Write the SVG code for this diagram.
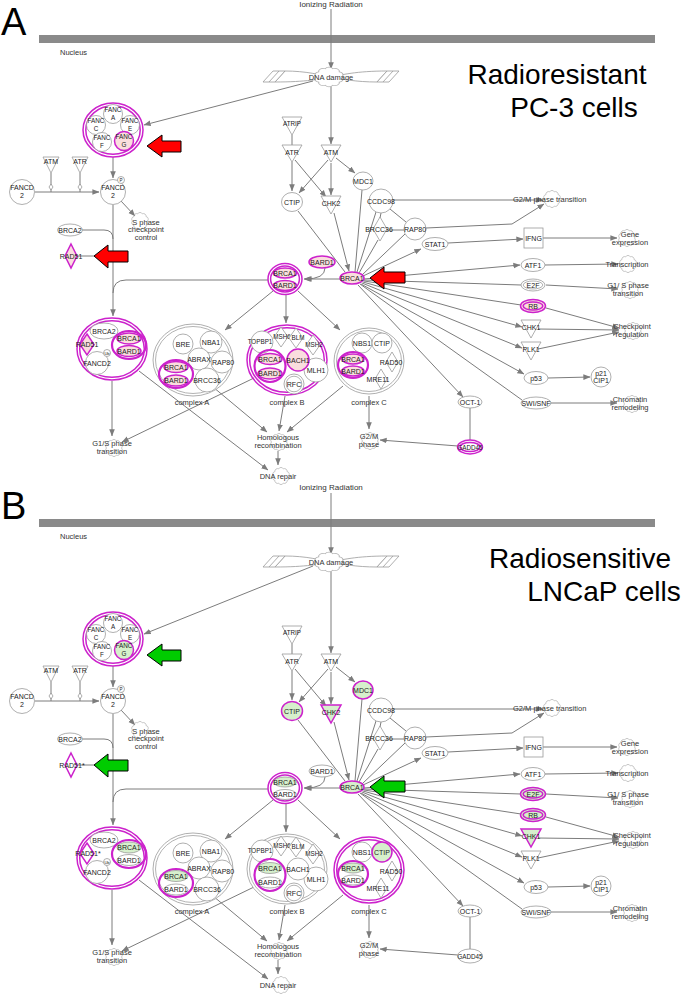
<svg xmlns="http://www.w3.org/2000/svg" width="685" height="995" viewBox="0 0 685 995">
<style>
text{font-family:"Liberation Sans",Arial,sans-serif;fill:#222}
.t{font-size:7px;text-anchor:middle}
.ts{font-size:6.3px;text-anchor:middle}
.f{font-size:7.5px;text-anchor:middle;fill:#333}
.fs{font-size:7.5px;text-anchor:start;fill:#333}
.big{font-size:28px;fill:#000;text-anchor:middle}
.lt{font-size:38px;fill:#000}
.nuc{font-size:7.5px;fill:#333}
.c{stroke:#7c7c7c;stroke-width:1;fill:none}
.a{stroke:#7c7c7c;stroke-width:1;fill:none;marker-end:url(#ah)}
.dm{fill:#fff;stroke:#8a8a8a;stroke-width:0.7}
.n{fill:#fff;stroke:#9a9a9a;stroke-width:0.8}
.m{stroke:#cc22cc;stroke-width:1.5}
.mo{fill:none;stroke:#cc22cc;stroke-width:1.5}
.go{fill:none;stroke:#a0a0a0;stroke-width:0.8}
.pk{fill:#fadede}
.gn{fill:#d6f0cc}
.sub{fill:none;stroke:#cc22cc;stroke-width:2.2}
.gear{fill:none;stroke:#b8b8b8;stroke-width:0.8}
.red{fill:#ff0000;stroke:#000;stroke-width:1}
.grn{fill:#00cc00;stroke:#000;stroke-width:1}
.bar{fill:#8a8a8a}
</style>
<defs>
<marker id="ah" viewBox="0 0 10 10" refX="9.5" refY="5" markerWidth="7" markerHeight="7" markerUnits="userSpaceOnUse" orient="auto"><path d="M0,1 L10,5 L0,9 Z" fill="#7c7c7c"/></marker>
<path id="gear" class="gear" d="M7.5,0 A2.6,2.6 0 0 1 6.07,4.41 A2.6,2.6 0 0 1 2.32,7.13 A2.6,2.6 0 0 1 -2.32,7.13 A2.6,2.6 0 0 1 -6.07,4.41 A2.6,2.6 0 0 1 -7.5,0 A2.6,2.6 0 0 1 -6.07,-4.41 A2.6,2.6 0 0 1 -2.32,-7.13 A2.6,2.6 0 0 1 2.32,-7.13 A2.6,2.6 0 0 1 6.07,-4.41 A2.6,2.6 0 0 1 7.5,0 Z"/>
<g id="dnashape">
<path class="n" d="M-56,5 L-46,-6 C-25,-6 -10,-2 0,0 C-10,2 -25,5 -56,5 Z"/>
<path class="n" d="M56,-6 L46,5 C25,5 10,2 0,0 C10,-2 25,-6 56,-6 Z"/>
<path class="n" d="M-68,5 L-58,-6 L-46,-6 L-56,5 Z"/>
<path class="c" d="M-62,5 L-52,-6" style="stroke:#9a9a9a;stroke-width:0.8"/>
<path class="n" d="M68,-6 L58,5 L46,5 L56,-6 Z"/>
<path class="c" d="M62,-6 L52,5" style="stroke:#9a9a9a;stroke-width:0.8"/>
<path d="M7.5,0 A2.6,2.6 0 0 1 6.07,4.41 A2.6,2.6 0 0 1 2.32,7.13 A2.6,2.6 0 0 1 -2.32,7.13 A2.6,2.6 0 0 1 -6.07,4.41 A2.6,2.6 0 0 1 -7.5,0 A2.6,2.6 0 0 1 -6.07,-4.41 A2.6,2.6 0 0 1 -2.32,-7.13 A2.6,2.6 0 0 1 2.32,-7.13 A2.6,2.6 0 0 1 6.07,-4.41 A2.6,2.6 0 0 1 7.5,0 Z" transform="translate(-2,0) scale(1.7,1.15)" fill="#fff" stroke="#b0b0b0" stroke-width="0.6"/>
</g>
</defs>
<rect width="685" height="995" fill="#fff"/>

<!-- ===================== PANEL A ===================== -->
<g id="panelA-top">
<text class="lt" x="1" y="35">A</text>
<rect class="bar" x="39" y="35" width="616" height="8"/>
<text class="nuc" x="60" y="55">Nucleus</text>
<text class="f" x="331" y="7" style="font-size:8px">Ionizing Radiation</text>
<text class="big" x="557" y="84">Radioresistant</text>
<text class="big" x="574" y="117">PC-3 cells</text>
<g id="a-top-edges">
<path class="a" d="M331,9 L331,69"/>
<path class="a" d="M331,86 L331,144"/>
<path class="a" d="M313,81 L144,125"/>
</g>
<g id="a-dnadamage"><use href="#dnashape" x="331" y="77"/><text class="f" x="331" y="79.5">DNA damage</text></g>
</g>

<g id="panelA">
<g id="a-edges">
<path class="a" d="M113,157 L113,178"/>
<path class="c" d="M51,173 L51,192"/>
<path class="c" d="M80,173 L80,192"/>
<path class="dm" d="M51,184 L53,187 L51,190 L49,187 Z"/>
<path class="dm" d="M80,184 L82,187 L80,190 L78,187 Z"/>
<path class="a" d="M35,192 L99,192"/>
<path class="a" d="M121,201 L135,216"/>
<path class="a" d="M113,205 L113,316"/>
<path class="c" d="M82,230 L104,230 Q113,230 113,239"/>
<path class="c" d="M77,256 L113,256"/>
<path class="c" d="M268,280 L126,280 Q113,280 113,293"/>
<path class="a" d="M112,381 L112,436"/>
<path class="a" d="M139,371 L268,470"/>
<path class="a" d="M254,378 L122,442"/>
<path class="a" d="M213,387 L267,432"/>
<path class="a" d="M285,396 L279,431"/>
<path class="a" d="M343,386 L287,432"/>
<path class="a" d="M278,451 L278,465"/>
<path class="a" d="M369,396 L369,429"/>
<path class="a" d="M458,446 L380,440"/>
<path class="c" d="M470,408 L470,440"/>
<path class="a" d="M273,291 L225,330"/>
<path class="a" d="M286,295 L286,323"/>
<path class="a" d="M298,291 L340,330"/>
<path class="a" d="M340,279 L304,279"/>
<path class="a" d="M325,268 Q325,279 305,279"/>
<path class="c" d="M292,135 L292,145"/>
<path class="a" d="M292,162 L292,191"/>
<path class="a" d="M295,160 L326,197"/>
<path class="a" d="M328,160 L299,193"/>
<path class="a" d="M331,163 L331,195"/>
<path class="a" d="M336,158 L355,173"/>
<path class="c" d="M298,211 L345,272"/>
<path class="a" d="M334,213 L349,271"/>
<path class="c" d="M362,190 L355,272"/>
<path class="c" d="M376,212 L357,272"/>
<path class="c" d="M378,240 L359,273"/>
<path class="c" d="M405,234 L362,275"/>
<path class="a" d="M363,276 L421,249"/>
<path class="c" d="M381,213 L380,218"/>
<path class="c" d="M386,230 L404,230"/>
<path class="c" d="M390,209 L406,222"/>
<path class="a" d="M393,200 L543,200"/>
<path class="a" d="M426,228 L512,224 L544,204"/>
<path class="a" d="M448,243 L523,239"/>
<path class="a" d="M543,238 L617,238"/>
<path class="a" d="M364,279 L520,265"/>
<path class="a" d="M545,265 L618,264"/>
<path class="c" d="M364,280 L521,285"/>
<path class="a" d="M546,285 L618,289"/>
<path class="c" d="M364,281 L521,305"/>
<path class="a" d="M546,308 L619,328"/>
<path class="a" d="M363,282 L522,327"/>
<path class="a" d="M538,329 L619,330"/>
<path class="a" d="M362,283 L522,348"/>
<path class="a" d="M538,349 L619,332"/>
<path class="a" d="M361,284 L524,374"/>
<path class="a" d="M548,378 L590,377"/>
<path class="c" d="M360,284 L522,400"/>
<path class="a" d="M551,403 L617,403"/>
<path class="a" d="M358,285 L463,397"/>
</g>

<g id="a-fanc">
<ellipse class="mo" cx="113" cy="130" rx="30" ry="27"/>
<ellipse class="mo" cx="113" cy="130" rx="27.2" ry="24.2"/>
<circle class="n" cx="113" cy="114" r="9.5"/><text class="ts" x="113" y="112">FANC</text><text class="ts" x="113" y="119.5">A</text>
<circle class="n" cx="96" cy="125" r="9.5"/><text class="ts" x="96" y="123">FANC</text><text class="ts" x="96" y="130.5">C</text>
<circle class="n" cx="130" cy="125" r="9.5"/><text class="ts" x="130" y="123">FANC</text><text class="ts" x="130" y="130.5">E</text>
<circle class="n" cx="102" cy="142" r="9.5"/><text class="ts" x="102" y="140">FANC</text><text class="ts" x="102" y="147.5">F</text>
<circle class="n m pk" cx="124" cy="141" r="9.5"/><text class="ts" x="124" y="139">FANC</text><text class="ts" x="124" y="146.5">G</text>
</g>
<g id="a-atm1"><path class="n" d="M43,157 L59,157 L51,173 Z"/><text class="t" x="51" y="164">ATM</text></g>
<g id="a-atr1"><path class="n" d="M72,157 L88,157 L80,173 Z"/><text class="t" x="80" y="164">ATR</text></g>
<g id="a-fancd2a"><circle class="n" cx="22" cy="192" r="12.5"/><text class="t" x="22" y="190">FANCD</text><text class="t" x="22" y="198">2</text></g>
<g id="a-fancd2b"><circle class="n" cx="113" cy="192" r="12.5"/><text class="t" x="113" y="190">FANCD</text><text class="t" x="113" y="198">2</text><circle class="n" cx="121" cy="180" r="3.5"/><text class="t" x="121" y="181.7" style="font-size:4.5px">P</text></g>
<g id="a-sphase"><use href="#gear" x="140" y="221"/><text class="f" x="146" y="224.5">S phase</text><text class="f" x="146" y="232">checkpoint</text><text class="f" x="146" y="240">control</text></g>
<g id="a-brca2"><ellipse class="n" cx="70" cy="230" rx="12.5" ry="6"/><text class="t" x="70" y="232.5">BRCA2</text></g>
<g id="a-rad51"><path class="n m pk" d="M71,244 L77,256 L71,268 L65,256 Z"/><text class="t" x="71" y="258.5">RAD51</text></g>
<g id="a-arrow1"><path class="red" d="M147,146 L162,135 L162,141 L181,141 L181,152 L162,152 L162,157 Z"/></g>
<g id="a-arrow2"><path class="red" d="M94,256 L108,245 L108,251 L128,251 L128,262 L108,262 L108,268 Z"/></g>
<g id="a-arrow3"><path class="red" d="M370,278 L384,267 L384,272 L405,272 L405,283 L384,283 L384,289 Z"/></g>
<g id="a-atrip"><path class="n" d="M282,117 L302,117 L292,135 Z"/><text class="ts" x="292" y="126">ATRIP</text></g>
<g id="a-atr2"><path class="n" d="M282,145 L302,145 L292,162 Z"/><text class="t" x="292" y="155">ATR</text></g>
<g id="a-atm2"><path class="n" d="M321,145 L341,145 L331,162 Z"/><text class="t" x="331" y="155">ATM</text></g>
<g id="a-ctip"><ellipse class="n" cx="292" cy="202" rx="10.5" ry="9.5"/><text class="t" x="292" y="204.5">CTIP</text></g>
<g id="a-chk2"><path class="n" d="M321,196 L341,196 L331,214 Z"/><text class="t" x="331" y="206">CHK2</text></g>
<g id="a-mdc1"><ellipse class="n" cx="363" cy="181" rx="10" ry="9"/><text class="t" x="363" y="183.5">MDC1</text></g>
<g id="a-ccdc98"><circle class="n" cx="381" cy="201" r="12"/><text class="t" x="381" y="203.5">CCDC98</text></g>
<g id="a-brcc36"><path class="n" d="M380,217 L387,229 L380,241 L373,229 Z"/><text class="t" x="379" y="231.5">BRCC36</text></g>
<g id="a-rap80"><circle class="n" cx="415" cy="229" r="11"/><text class="t" x="415" y="231.5">RAP80</text></g>
<g id="a-stat1"><ellipse class="n" cx="435" cy="244" rx="13" ry="6.5"/><text class="t" x="435" y="246.5">STAT1</text></g>
<g id="a-g2mtrans"><use href="#gear" x="552" y="199"/><text class="fs" x="513" y="202">G2/M phase transition</text></g>
<g id="a-ifng"><rect class="n" x="524" y="228" width="19" height="20"/><text class="t" x="533.5" y="240.5">IFNG</text></g>
<g id="a-geneexp"><use href="#gear" x="627" y="238"/><text class="f" x="630" y="236.5">Gene</text><text class="f" x="630" y="244.5">expression</text></g>
<g id="a-bard1"><ellipse class="n m pk" cx="322" cy="262" rx="13" ry="6"/><text class="t" x="322" y="264.5">BARD1</text></g>
<g id="a-brca1hub"><ellipse class="n m pk" cx="352" cy="278" rx="12" ry="6"/><text class="t" x="352" y="280.5">BRCA1</text></g>
<g id="a-brca1bard1">
<ellipse class="mo" cx="285" cy="279" rx="17" ry="15.5"/><ellipse class="mo" cx="285" cy="279" rx="14.4" ry="12.9"/>
<ellipse class="n m pk" cx="285" cy="273" rx="11.5" ry="5"/><text class="t" x="285" y="275.5">BRCA1</text>
<ellipse class="n m pk" cx="285" cy="285.5" rx="11.5" ry="5"/><text class="t" x="285" y="288">BARD1</text>
</g>
<g id="a-atf1"><ellipse class="n" cx="533" cy="265" rx="12" ry="6.5"/><text class="t" x="533" y="267.5">ATF1</text></g>
<g id="a-transcription"><use href="#gear" x="628" y="264"/><text class="f" x="627" y="266.5">Transcription</text></g>
<g id="a-e2f"><ellipse class="n" cx="533" cy="285" rx="12" ry="6"/><ellipse class="go" cx="533" cy="285" rx="9.8" ry="4"/><text class="t" x="533" y="287.5">E2F</text></g>
<g id="a-g1strans"><use href="#gear" x="630" y="290"/><text class="f" x="628" y="288">G1/ S phase</text><text class="f" x="628" y="296">transition</text></g>
<g id="a-rb"><ellipse class="n m pk" cx="533" cy="306" rx="12.5" ry="6.5"/><ellipse class="mo" cx="533" cy="306" rx="9.8" ry="4"/><text class="t" x="533" y="308.5">RB</text></g>
<g id="a-chk1"><path class="n" d="M521,320 L541,320 L531,338 Z"/><text class="t" x="531" y="330">CHK1</text></g>
<g id="a-plk1"><path class="n" d="M521,342 L541,342 L531,360 Z"/><text class="t" x="531" y="352">PLK1</text></g>
<g id="a-checkpoint"><use href="#gear" x="633" y="331"/><text class="f" x="632" y="329">Checkpoint</text><text class="f" x="632" y="337">regulation</text></g>
<g id="a-p53"><ellipse class="n" cx="536" cy="378" rx="12" ry="6.5"/><text class="t" x="536" y="380.5">p53</text></g>
<g id="a-p21"><circle class="n" cx="601" cy="377" r="10"/><text class="t" x="601" y="375.5">p21</text><text class="t" x="601" y="383">CIP1</text></g>
<g id="a-swisnf"><ellipse class="n" cx="536" cy="403" rx="15" ry="6"/><text class="t" x="536" y="405.5">SWI/SNF</text></g>
<g id="a-chromatin"><use href="#gear" x="632" y="404"/><text class="f" x="630" y="401.5">Chromatin</text><text class="f" x="630" y="409.5">remodeling</text></g>
<g id="a-oct1"><ellipse class="n" cx="470" cy="402" rx="12" ry="6"/><text class="t" x="470" y="404.5">OCT-1</text></g>
<g id="a-gadd45"><ellipse class="n m" cx="470" cy="447" rx="12.5" ry="7"/><ellipse class="mo" cx="470" cy="447" rx="10" ry="4.6"/><text class="ts" x="470" y="449.5">GADD45</text></g>
<g id="a-g2mphase"><use href="#gear" x="370" y="441"/><text class="f" x="369" y="439">G2/M</text><text class="f" x="369" y="447">phase</text></g>
<g id="a-hr"><use href="#gear" x="279" y="442"/><text class="f" x="278" y="440">Homologous</text><text class="f" x="278" y="448">recombination</text></g>
<g id="a-dnarepair"><use href="#gear" x="281" y="476"/><text class="f" x="278" y="479">DNA repair</text></g>
<g id="a-g1sphase"><use href="#gear" x="114" y="448"/><text class="f" x="112" y="446">G1/S phase</text><text class="f" x="112" y="454">transition</text></g>

<g id="a-brca2cx">
<ellipse class="mo" cx="112" cy="349" rx="35" ry="31" fill="#fff"/><ellipse class="mo" cx="112" cy="349" rx="32.3" ry="28.3"/>
<ellipse class="n" cx="104" cy="331" rx="14" ry="8"/><text class="t" x="104" y="333.5">BRCA2</text>
<circle class="n" cx="97" cy="363" r="11.5"/><text class="t" x="97" y="365.5">FANCD2</text>
<circle class="n" cx="107" cy="353" r="3.5"/><text class="t" x="107" y="354.5" style="font-size:4px">Ub</text>
<path class="n m pk" d="M87,334 L94,344.5 L87,355 L80,344.5 Z"/><text class="t" x="87" y="347">RAD51</text>
<ellipse class="sub" cx="129" cy="345" rx="17" ry="14" fill="#fff"/>
<ellipse class="n m pk" cx="129" cy="338.5" rx="12" ry="5.5"/><text class="t" x="129" y="341">BRCA1</text>
<ellipse class="n m pk" cx="129" cy="351" rx="12" ry="5.5"/><text class="t" x="129" y="353.5">BARD1</text>
</g>

<g id="a-complexA">
<ellipse class="n" cx="193" cy="360" rx="40" ry="36"/><ellipse class="go" cx="193" cy="360" rx="37.5" ry="33.5"/>
<circle class="n" cx="183" cy="344" r="10"/><text class="t" x="183" y="346.5">BRE</text>
<circle class="n" cx="211" cy="342" r="11"/><text class="t" x="211" y="344.5">NBA1</text>
<circle class="n" cx="222" cy="362" r="11"/>
<circle class="n" cx="199" cy="359" r="11"/><text class="t" x="199" y="361.5">ABRAX</text><text class="t" x="223" y="364.5">RAP80</text>
<circle class="n" cx="207" cy="380" r="12"/><text class="t" x="207" y="382.5">BRCC36</text>
<ellipse class="sub" cx="176" cy="374" rx="17" ry="14" fill="#fff"/>
<ellipse class="n m pk" cx="176" cy="367" rx="12" ry="5.5"/><text class="t" x="176" y="369.5">BRCA1</text>
<ellipse class="n m pk" cx="176" cy="380.5" rx="12" ry="5.5"/><text class="t" x="176" y="383">BARD1</text>
<text class="f" x="192" y="405">complex A</text>
</g>

<g id="a-complexB">
<ellipse class="mo" cx="287" cy="360" rx="40" ry="35" fill="#fbe4e4"/><ellipse class="mo" cx="287" cy="360" rx="37.3" ry="32.3"/>
<circle class="n" cx="262" cy="342" r="11"/><text class="ts" x="260" y="344">TOPBP1</text>
<path class="n" d="M281,327 L288,337 L281,347 L274,337 Z"/><text class="ts" x="282" y="339">MSH6</text>
<path class="n" d="M296,328 L303,338 L296,348 L289,338 Z"/><text class="ts" x="298" y="340">BLM</text>
<path class="n" d="M313,335 L320,345 L313,355 L306,345 Z"/><text class="ts" x="314" y="347">MSH2</text>
<circle class="n" cx="316" cy="370" r="12"/><text class="t" x="316" y="372.5">MLH1</text>
<circle class="n m pk" cx="298" cy="360" r="11"/><text class="t" x="298" y="362.5">BACH1</text>
<circle class="n" cx="294" cy="384" r="10"/><circle class="go" cx="294" cy="384" r="7.8"/><text class="t" x="294" y="386.5">RFC</text>
<ellipse class="sub" cx="270" cy="366" rx="15.5" ry="16" fill="#fbe4e4"/>
<ellipse class="n m pk" cx="270" cy="359" rx="12" ry="5.5"/><text class="t" x="270" y="361.5">BRCA1</text>
<ellipse class="n m pk" cx="270" cy="373.5" rx="12" ry="5.5"/><text class="t" x="270" y="376">BARD1</text>
<text class="f" x="287" y="405">complex B</text>
</g>

<g id="a-complexC">
<ellipse class="n" cx="369" cy="361" rx="35" ry="33"/><ellipse class="go" cx="369" cy="361" rx="32.5" ry="30.5"/>
<circle class="n" cx="362" cy="343" r="10"/><text class="t" x="362" y="345.5">NBS1</text>
<circle class="n" cx="382" cy="343" r="10"/><text class="t" x="382" y="345.5">CTIP</text>
<path class="n" d="M392,352 L398,362 L392,372 L386,362 Z"/><text class="t" x="391" y="365">RAD50</text>
<path class="n" d="M381,369 L387,379 L381,389 L375,379 Z"/><text class="t" x="378" y="382">MRE11</text>
<ellipse class="sub" cx="353" cy="365" rx="15" ry="13" fill="#fff"/>
<ellipse class="n m pk" cx="353" cy="359" rx="11" ry="5"/><text class="t" x="353" y="361.5">BRCA1</text>
<ellipse class="n m pk" cx="353" cy="371" rx="11" ry="5"/><text class="t" x="353" y="373.5">BARD1</text>
<text class="f" x="369" y="405">complex C</text>
</g>
</g>

<!-- ===================== PANEL B ===================== -->
<g id="panelB-top">
<text class="lt" x="1" y="519">B</text>
<rect class="bar" x="39" y="519" width="616" height="8"/>
<text class="nuc" x="60" y="539">Nucleus</text>
<text class="f" x="331" y="490" style="font-size:8px">Ionizing Radiation</text>
<text class="big" x="580" y="568">Radiosensitive</text>
<text class="big" x="604" y="601">LNCaP cells</text>
<g id="b-top-edges">
<path class="a" d="M331,493 L331,554"/>
<path class="a" d="M331,571 L331,653"/>
<path class="a" d="M313,566 L144,634"/>
</g>
<g id="b-dnadamage"><use href="#dnashape" x="331" y="562"/><text class="f" x="331" y="564.5">DNA damage</text></g>
</g>

<g id="panelB" transform="translate(0,509)">
<g id="b-edges">
<path class="a" d="M113,157 L113,178"/>
<path class="c" d="M51,173 L51,192"/>
<path class="c" d="M80,173 L80,192"/>
<path class="dm" d="M51,184 L53,187 L51,190 L49,187 Z"/>
<path class="dm" d="M80,184 L82,187 L80,190 L78,187 Z"/>
<path class="a" d="M35,192 L99,192"/>
<path class="a" d="M121,201 L135,216"/>
<path class="a" d="M113,205 L113,316"/>
<path class="c" d="M82,230 L104,230 Q113,230 113,239"/>
<path class="c" d="M77,256 L113,256"/>
<path class="c" d="M268,280 L126,280 Q113,280 113,293"/>
<path class="a" d="M112,381 L112,436"/>
<path class="a" d="M139,371 L268,470"/>
<path class="a" d="M254,378 L122,442"/>
<path class="a" d="M213,387 L267,432"/>
<path class="a" d="M285,396 L279,431"/>
<path class="a" d="M343,386 L287,432"/>
<path class="a" d="M278,451 L278,465"/>
<path class="a" d="M369,396 L369,429"/>
<path class="a" d="M458,446 L380,440"/>
<path class="c" d="M470,408 L470,440"/>
<path class="a" d="M273,291 L225,330"/>
<path class="a" d="M286,295 L286,323"/>
<path class="a" d="M298,291 L340,330"/>
<path class="a" d="M340,279 L304,279"/>
<path class="a" d="M325,268 Q325,279 305,279"/>
<path class="c" d="M292,135 L292,145"/>
<path class="a" d="M292,162 L292,191"/>
<path class="a" d="M295,160 L326,197"/>
<path class="a" d="M328,160 L299,193"/>
<path class="a" d="M331,163 L331,195"/>
<path class="a" d="M336,158 L355,173"/>
<path class="c" d="M298,211 L345,272"/>
<path class="a" d="M334,213 L349,271"/>
<path class="c" d="M362,190 L355,272"/>
<path class="c" d="M376,212 L357,272"/>
<path class="c" d="M378,240 L359,273"/>
<path class="c" d="M405,234 L362,275"/>
<path class="a" d="M363,276 L421,249"/>
<path class="c" d="M381,213 L380,218"/>
<path class="c" d="M386,230 L404,230"/>
<path class="c" d="M390,209 L406,222"/>
<path class="a" d="M393,200 L543,200"/>
<path class="a" d="M426,228 L512,224 L544,204"/>
<path class="a" d="M448,243 L523,239"/>
<path class="a" d="M543,238 L617,238"/>
<path class="a" d="M364,279 L520,265"/>
<path class="a" d="M545,265 L618,264"/>
<path class="c" d="M364,280 L521,285"/>
<path class="a" d="M546,285 L618,289"/>
<path class="c" d="M364,281 L521,305"/>
<path class="a" d="M546,308 L619,328"/>
<path class="a" d="M363,282 L522,327"/>
<path class="a" d="M538,329 L619,330"/>
<path class="a" d="M362,283 L522,348"/>
<path class="a" d="M538,349 L619,332"/>
<path class="a" d="M361,284 L524,374"/>
<path class="a" d="M548,378 L590,377"/>
<path class="c" d="M360,284 L522,400"/>
<path class="a" d="M551,403 L617,403"/>
<path class="a" d="M358,285 L463,397"/>
</g>

<g id="b-fanc">
<ellipse class="mo" cx="113" cy="130" rx="30" ry="27"/>
<ellipse class="mo" cx="113" cy="130" rx="27.2" ry="24.2"/>
<circle class="n" cx="113" cy="114" r="9.5"/><text class="ts" x="113" y="112">FANC</text><text class="ts" x="113" y="119.5">A</text>
<circle class="n" cx="96" cy="125" r="9.5"/><text class="ts" x="96" y="123">FANC</text><text class="ts" x="96" y="130.5">C</text>
<circle class="n" cx="130" cy="125" r="9.5"/><text class="ts" x="130" y="123">FANC</text><text class="ts" x="130" y="130.5">E</text>
<circle class="n" cx="102" cy="142" r="9.5"/><text class="ts" x="102" y="140">FANC</text><text class="ts" x="102" y="147.5">F</text>
<circle class="n m gn" cx="124" cy="141" r="9.5"/><text class="ts" x="124" y="139">FANC</text><text class="ts" x="124" y="146.5">G</text>
</g>
<g id="b-atm1"><path class="n" d="M43,157 L59,157 L51,173 Z"/><text class="t" x="51" y="164">ATM</text></g>
<g id="b-atr1"><path class="n" d="M72,157 L88,157 L80,173 Z"/><text class="t" x="80" y="164">ATR</text></g>
<g id="b-fancd2a"><circle class="n" cx="22" cy="192" r="12.5"/><text class="t" x="22" y="190">FANCD</text><text class="t" x="22" y="198">2</text></g>
<g id="b-fancd2b"><circle class="n" cx="113" cy="192" r="12.5"/><text class="t" x="113" y="190">FANCD</text><text class="t" x="113" y="198">2</text><circle class="n" cx="121" cy="180" r="3.5"/><text class="t" x="121" y="181.7" style="font-size:4.5px">P</text></g>
<g id="b-sphase"><use href="#gear" x="140" y="221"/><text class="f" x="146" y="224.5">S phase</text><text class="f" x="146" y="232">checkpoint</text><text class="f" x="146" y="240">control</text></g>
<g id="b-brca2"><ellipse class="n" cx="70" cy="230" rx="12.5" ry="6"/><text class="t" x="70" y="232.5">BRCA2</text></g>
<g id="b-rad51"><path class="n m" d="M71,244 L77,256 L71,268 L65,256 Z"/><text class="t" x="72" y="258.5">RAD51*</text></g>
<g id="b-arrow1"><path class="grn" d="M147,146 L162,135 L162,141 L181,141 L181,152 L162,152 L162,157 Z"/></g>
<g id="b-arrow2"><path class="grn" d="M94,256 L108,245 L108,251 L128,251 L128,262 L108,262 L108,268 Z"/></g>
<g id="b-arrow3"><path class="grn" d="M370,278 L384,267 L384,272 L405,272 L405,283 L384,283 L384,289 Z"/></g>
<g id="b-atrip"><path class="n" d="M282,117 L302,117 L292,135 Z"/><text class="ts" x="292" y="126">ATRIP</text></g>
<g id="b-atr2"><path class="n" d="M282,145 L302,145 L292,162 Z"/><text class="t" x="292" y="155">ATR</text></g>
<g id="b-atm2"><path class="n" d="M321,145 L341,145 L331,162 Z"/><text class="t" x="331" y="155">ATM</text></g>
<g id="b-ctip"><ellipse class="n m gn" cx="292" cy="202" rx="10.5" ry="9.5"/><text class="t" x="292" y="204.5">CTIP</text></g>
<g id="b-chk2"><path class="n m gn" d="M321,196 L341,196 L331,214 Z"/><text class="t" x="331" y="206">CHK2</text></g>
<g id="b-mdc1"><ellipse class="n m gn" cx="363" cy="181" rx="10" ry="9"/><text class="t" x="363" y="183.5">MDC1</text></g>
<g id="b-ccdc98"><circle class="n" cx="381" cy="201" r="12"/><text class="t" x="381" y="203.5">CCDC98</text></g>
<g id="b-brcc36"><path class="n" d="M380,217 L387,229 L380,241 L373,229 Z"/><text class="t" x="379" y="231.5">BRCC36</text></g>
<g id="b-rap80"><circle class="n" cx="415" cy="229" r="11"/><text class="t" x="415" y="231.5">RAP80</text></g>
<g id="b-stat1"><ellipse class="n" cx="435" cy="244" rx="13" ry="6.5"/><text class="t" x="435" y="246.5">STAT1</text></g>
<g id="b-g2mtrans"><use href="#gear" x="552" y="199"/><text class="fs" x="513" y="202">G2/M phase transition</text></g>
<g id="b-ifng"><rect class="n" x="524" y="228" width="19" height="20"/><text class="t" x="533.5" y="240.5">IFNG</text></g>
<g id="b-geneexp"><use href="#gear" x="627" y="238"/><text class="f" x="630" y="236.5">Gene</text><text class="f" x="630" y="244.5">expression</text></g>
<g id="b-bard1"><ellipse class="n" cx="322" cy="262" rx="13" ry="6"/><text class="t" x="322" y="264.5">BARD1</text></g>
<g id="b-brca1hub"><ellipse class="n m gn" cx="352" cy="278" rx="12" ry="6"/><text class="t" x="352" y="280.5">BRCA1</text></g>
<g id="b-brca1bard1">
<ellipse class="mo" cx="285" cy="279" rx="17" ry="15.5"/><ellipse class="mo" cx="285" cy="279" rx="14.4" ry="12.9"/>
<ellipse class="n gn" cx="285" cy="273" rx="11.5" ry="5"/><text class="t" x="285" y="275.5">BRCA1</text>
<ellipse class="n" cx="285" cy="285.5" rx="11.5" ry="5"/><text class="t" x="285" y="288">BARD1</text>
</g>
<g id="b-atf1"><ellipse class="n" cx="533" cy="265" rx="12" ry="6.5"/><text class="t" x="533" y="267.5">ATF1</text></g>
<g id="b-transcription"><use href="#gear" x="628" y="264"/><text class="f" x="627" y="266.5">Transcription</text></g>
<g id="b-e2f"><ellipse class="n m gn" cx="533" cy="285" rx="12.5" ry="6.5"/><ellipse class="mo" cx="533" cy="285" rx="9.8" ry="4"/><text class="t" x="533" y="287.5">E2F</text></g>
<g id="b-g1strans"><use href="#gear" x="630" y="290"/><text class="f" x="628" y="288">G1/ S phase</text><text class="f" x="628" y="296">transition</text></g>
<g id="b-rb"><ellipse class="n m gn" cx="533" cy="306" rx="12.5" ry="6.5"/><ellipse class="mo" cx="533" cy="306" rx="9.8" ry="4"/><text class="t" x="533" y="308.5">RB</text></g>
<g id="b-chk1"><path class="n m gn" d="M521,320 L541,320 L531,338 Z"/><text class="t" x="531" y="330">CHK1</text></g>
<g id="b-plk1"><path class="n" d="M521,342 L541,342 L531,360 Z"/><text class="t" x="531" y="352">PLK1</text></g>
<g id="b-checkpoint"><use href="#gear" x="633" y="331"/><text class="f" x="632" y="329">Checkpoint</text><text class="f" x="632" y="337">regulation</text></g>
<g id="b-p53"><ellipse class="n" cx="536" cy="378" rx="12" ry="6.5"/><text class="t" x="536" y="380.5">p53</text></g>
<g id="b-p21"><circle class="n" cx="601" cy="377" r="10"/><text class="t" x="601" y="375.5">p21</text><text class="t" x="601" y="383">CIP1</text></g>
<g id="b-swisnf"><ellipse class="n" cx="536" cy="403" rx="15" ry="6"/><text class="t" x="536" y="405.5">SWI/SNF</text></g>
<g id="b-chromatin"><use href="#gear" x="632" y="404"/><text class="f" x="630" y="401.5">Chromatin</text><text class="f" x="630" y="409.5">remodeling</text></g>
<g id="b-oct1"><ellipse class="n" cx="470" cy="402" rx="12" ry="6"/><text class="t" x="470" y="404.5">OCT-1</text></g>
<g id="b-gadd45"><ellipse class="n" cx="470" cy="447" rx="12.5" ry="7"/><text class="ts" x="470" y="449.5">GADD45</text></g>
<g id="b-g2mphase"><use href="#gear" x="370" y="441"/><text class="f" x="369" y="439">G2/M</text><text class="f" x="369" y="447">phase</text></g>
<g id="b-hr"><use href="#gear" x="279" y="442"/><text class="f" x="278" y="440">Homologous</text><text class="f" x="278" y="448">recombination</text></g>
<g id="b-dnarepair"><use href="#gear" x="281" y="476"/><text class="f" x="278" y="479">DNA repair</text></g>
<g id="b-g1sphase"><use href="#gear" x="114" y="448"/><text class="f" x="112" y="446">G1/S phase</text><text class="f" x="112" y="454">transition</text></g>

<g id="b-brca2cx">
<ellipse class="mo" cx="112" cy="349" rx="35" ry="31" fill="#fff"/><ellipse class="mo" cx="112" cy="349" rx="32.3" ry="28.3"/>
<ellipse class="n" cx="104" cy="331" rx="14" ry="8"/><text class="t" x="104" y="333.5">BRCA2</text>
<circle class="n" cx="97" cy="363" r="11.5"/><text class="t" x="97" y="365.5">FANCD2</text>
<circle class="n" cx="107" cy="353" r="3.5"/><text class="t" x="107" y="354.5" style="font-size:4px">Ub</text>
<path class="n m" d="M87,334 L94,344.5 L87,355 L80,344.5 Z"/><text class="t" x="88" y="347">RAD51*</text>
<ellipse class="sub" cx="129" cy="345" rx="17" ry="14" fill="#fff"/>
<ellipse class="n gn" cx="129" cy="338.5" rx="12" ry="5.5"/><text class="t" x="129" y="341">BRCA1</text>
<ellipse class="n" cx="129" cy="351" rx="12" ry="5.5"/><text class="t" x="129" y="353.5">BARD1</text>
</g>

<g id="b-complexA">
<ellipse class="n" cx="193" cy="360" rx="40" ry="36"/><ellipse class="go" cx="193" cy="360" rx="37.5" ry="33.5"/>
<circle class="n" cx="183" cy="344" r="10"/><text class="t" x="183" y="346.5">BRE</text>
<circle class="n" cx="211" cy="342" r="11"/><text class="t" x="211" y="344.5">NBA1</text>
<circle class="n" cx="222" cy="362" r="11"/>
<circle class="n" cx="199" cy="359" r="11"/><text class="t" x="199" y="361.5">ABRAX</text><text class="t" x="223" y="364.5">RAP80</text>
<circle class="n" cx="207" cy="380" r="12"/><text class="t" x="207" y="382.5">BRCC36</text>
<ellipse class="sub" cx="176" cy="374" rx="17" ry="14" fill="#fff"/>
<ellipse class="n gn" cx="176" cy="367" rx="12" ry="5.5"/><text class="t" x="176" y="369.5">BRCA1</text>
<ellipse class="n" cx="176" cy="380.5" rx="12" ry="5.5"/><text class="t" x="176" y="383">BARD1</text>
<text class="f" x="192" y="405">complex A</text>
</g>

<g id="b-complexB">
<ellipse class="n" cx="287" cy="360" rx="40" ry="35"/><ellipse class="go" cx="287" cy="360" rx="37.5" ry="32.5"/>
<circle class="n" cx="262" cy="342" r="11"/><text class="ts" x="260" y="344">TOPBP1</text>
<path class="n" d="M281,327 L288,337 L281,347 L274,337 Z"/><text class="ts" x="282" y="339">MSH6</text>
<path class="n" d="M296,328 L303,338 L296,348 L289,338 Z"/><text class="ts" x="298" y="340">BLM</text>
<path class="n" d="M313,335 L320,345 L313,355 L306,345 Z"/><text class="ts" x="314" y="347">MSH2</text>
<circle class="n" cx="316" cy="370" r="12"/><text class="t" x="316" y="372.5">MLH1</text>
<circle class="n" cx="298" cy="360" r="11"/><text class="t" x="298" y="362.5">BACH1</text>
<circle class="n" cx="294" cy="384" r="10"/><circle class="go" cx="294" cy="384" r="7.8"/><text class="t" x="294" y="386.5">RFC</text>
<ellipse class="sub" cx="270" cy="366" rx="15.5" ry="16" fill="#fff"/>
<ellipse class="n gn" cx="270" cy="359" rx="12" ry="5.5"/><text class="t" x="270" y="361.5">BRCA1</text>
<ellipse class="n" cx="270" cy="373.5" rx="12" ry="5.5"/><text class="t" x="270" y="376">BARD1</text>
<text class="f" x="287" y="405">complex B</text>
</g>

<g id="b-complexC">
<ellipse class="mo" cx="369" cy="361" rx="35" ry="33" fill="#e2f5da"/><ellipse class="mo" cx="369" cy="361" rx="32.3" ry="30.3"/>
<circle class="n" cx="362" cy="343" r="10"/><text class="t" x="362" y="345.5">NBS1</text>
<circle class="n m gn" cx="382" cy="343" r="10"/><text class="t" x="382" y="345.5">CTIP</text>
<path class="n" d="M392,352 L398,362 L392,372 L386,362 Z"/><text class="t" x="391" y="365">RAD50</text>
<path class="n" d="M381,369 L387,379 L381,389 L375,379 Z"/><text class="t" x="378" y="382">MRE11</text>
<ellipse class="sub" cx="353" cy="365" rx="15" ry="13" fill="#e2f5da"/>
<ellipse class="n gn" cx="353" cy="359" rx="11" ry="5"/><text class="t" x="353" y="361.5">BRCA1</text>
<ellipse class="n" cx="353" cy="371" rx="11" ry="5"/><text class="t" x="353" y="373.5">BARD1</text>
<text class="f" x="369" y="405">complex C</text>
</g>
</g>
</svg>
